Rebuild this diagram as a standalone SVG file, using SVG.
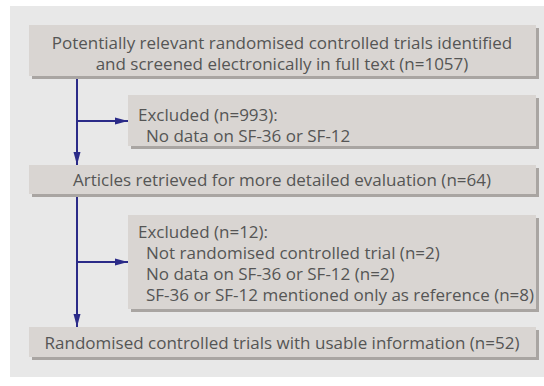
<svg xmlns="http://www.w3.org/2000/svg" width="544" height="386" viewBox="0 0 544 386">
<defs>
<style>
.bg{fill:#e8e8e8}
.box{fill:#d9d5d2}
.sh{fill:#a9a5a2}
.t{font-family:"Open Sans","Liberation Sans",sans-serif;font-size:17px;fill:#555555}
.c{text-anchor:middle}
.ln{stroke:#2b2b88;stroke-width:2;fill:none}
</style>
<marker id="ah" markerUnits="userSpaceOnUse" markerWidth="14" markerHeight="8" refX="13" refY="4" orient="auto">
<path d="M0,0.5 L13,4 L0,7.5 z" fill="#2b2b88"/>
</marker>
</defs>
<rect class="bg" x="10" y="6" width="534" height="371"/>
<g id="connectors">
<line class="ln" x1="77" y1="76" x2="77" y2="165" marker-end="url(#ah)"/>
<line class="ln" x1="77" y1="121" x2="128" y2="121" marker-end="url(#ah)"/>
<line class="ln" x1="77" y1="194" x2="77" y2="327" marker-end="url(#ah)"/>
<line class="ln" x1="77" y1="262" x2="128" y2="262" marker-end="url(#ah)"/>
</g>
<g id="n1">
<rect class="sh" x="32" y="28" width="507" height="51"/>
<rect class="box" x="29" y="25" width="507" height="51"/>
<text class="t c" x="282" y="48.5">Potentially relevant randomised controlled trials identified</text>
<text class="t c" x="282" y="69.5">and screened electronically in full text (n=1057)</text>
</g>
<g id="n2">
<rect class="sh" x="131" y="98" width="408" height="51"/>
<rect class="box" x="128" y="95" width="408" height="51"/>
<text class="t" x="138" y="120.5">Excluded (n=993):</text>
<text class="t" x="146" y="141.5">No data on SF-36 or SF-12</text>
</g>
<g id="n3">
<rect class="sh" x="32" y="168" width="507" height="29"/>
<rect class="box" x="29" y="165" width="507" height="29"/>
<text class="t c" x="282" y="186">Articles retrieved for more detailed evaluation (n=64)</text>
</g>
<g id="n4">
<rect class="sh" x="131" y="218" width="408" height="94"/>
<rect class="box" x="128" y="215" width="408" height="94"/>
<text class="t" x="138" y="237.5">Excluded (n=12):</text>
<text class="t" x="146" y="258.5">Not randomised controlled trial (n=2)</text>
<text class="t" x="146" y="279.5">No data on SF-36 or SF-12 (n=2)</text>
<text class="t" x="146" y="300.5">SF-36 or SF-12 mentioned only as reference (n=8)</text>
</g>
<g id="n5">
<rect class="sh" x="32" y="330" width="507" height="30"/>
<rect class="box" x="29" y="327" width="507" height="30"/>
<text class="t c" x="282" y="349">Randomised controlled trials with usable information (n=52)</text>
</g>
</svg>
